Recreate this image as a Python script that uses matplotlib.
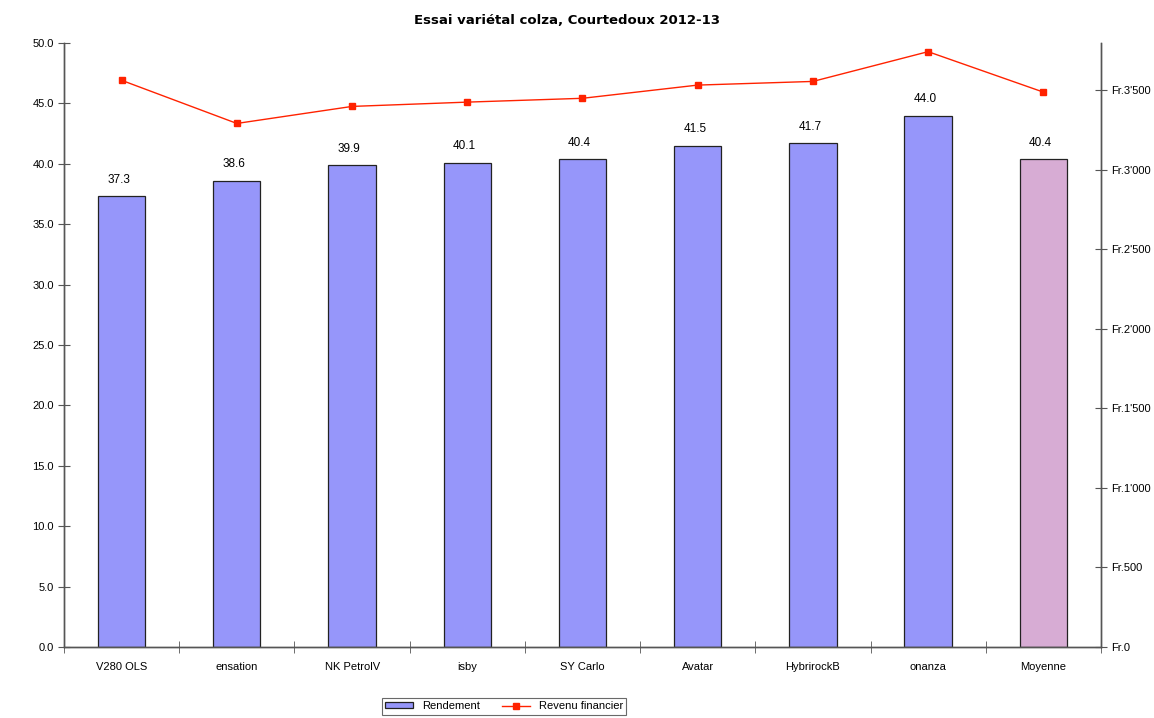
import matplotlib.pyplot as plt
import numpy as np

# ---------------------------------------------------------------------------
# Data
# ---------------------------------------------------------------------------
varietes = ['V280 OLS', 'ensation', 'NK PetrolV', 'isby', 'SY Carlo',
            'Avatar', 'HybrirockB', 'onanza', 'Moyenne']
rendement = [37.3, 38.6, 39.9, 40.1, 40.4, 41.5, 41.7, 44.0, 40.4]
revenu = [3561, 3290, 3397, 3424, 3448, 3531, 3554, 3741, 3487]
left_ticks = np.arange(0, 50.1, 5)
right_ticks = np.arange(0, 3501, 500)

BAR_COLOR = '#9696FA'
MEAN_COLOR = '#D7ACD4'
LINE_COLOR = '#FF2200'
AXIS_COLOR = '#555555'

plt.rcParams['font.family'] = ['Liberation Sans', 'DejaVu Sans']

fig = plt.figure(figsize=(11.54, 7.18), dpi=100)
ax = fig.add_axes([0.0555, 0.0989, 0.8985, 0.8411])
ax2 = ax.twinx()

x = np.arange(len(varietes))
colors = [BAR_COLOR] * (len(varietes) - 1) + [MEAN_COLOR]
bars = ax.bar(x, rendement, width=0.41, color=colors, edgecolor='#222222',
              linewidth=0.9, label='Rendement', zorder=2)
for xi, v in zip(x, rendement):
    ax.annotate(f'{v:.1f}', (xi, v), xytext=(-2, 7.5), textcoords='offset points',
                ha='center', va='bottom', fontsize=8.5)

line, = ax2.plot(x, revenu, color=LINE_COLOR, marker='s', markersize=5,
                 linewidth=1, label='Revenu financier')

ax.set_xlim(-0.5, len(varietes) - 0.5)
ax.set_ylim(0, 50)
ax2.set_ylim(0, 3795)

ax.set_yticks(left_ticks)
ax.set_yticklabels([f'{t:.1f}' for t in left_ticks], fontsize=8)
ax2.set_yticks(right_ticks)
ax2.set_yticklabels(['Fr.0'] + [f"Fr.{t // 1000}'{t % 1000:03d}" if t >= 1000
                                else f'Fr.{t}' for t in right_ticks[1:]],
                    fontsize=8)

# category labels centred, ticks on the boundaries
ax.set_xticks(x)
ax.set_xticklabels(varietes, fontsize=8)
ax.tick_params(axis='x', length=0, pad=11)
ax.set_xticks(np.arange(-0.5, len(varietes)), minor=True)
ax.tick_params(axis='x', which='minor', direction='inout', length=8,
               color=AXIS_COLOR)
ax.tick_params(axis='y', direction='inout', length=8, color=AXIS_COLOR)
ax2.tick_params(axis='y', direction='inout', length=8, color=AXIS_COLOR)

for a in (ax, ax2):
    a.spines['top'].set_visible(False)
    for s in ('left', 'right', 'bottom'):
        a.spines[s].set_color(AXIS_COLOR)
        a.spines[s].set_linewidth(1)

fig.suptitle('Essai variétal colza, Courtedoux 2012-13', fontweight='bold',
             fontsize=9.5, y=0.98, x=0.491, family=['DejaVu Sans'])

leg = fig.legend([bars, line], ['Rendement', 'Revenu financier'],
                 loc='upper center', bbox_to_anchor=(0.437, 0.028), ncol=2,
                 fontsize=8, frameon=True, fancybox=False, edgecolor='#444444',
                 borderaxespad=0, handlelength=2.5, handleheight=0.5,
                 columnspacing=2, borderpad=0.3)
leg.get_frame().set_linewidth(0.8)

plt.savefig('out.png', dpi=100)
